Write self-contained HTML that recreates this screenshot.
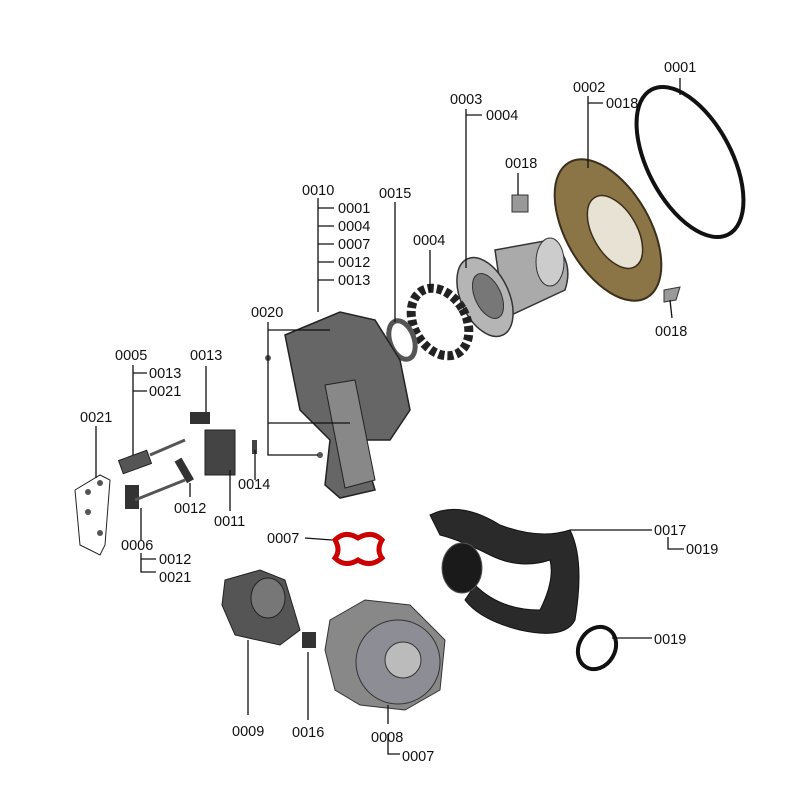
<!DOCTYPE html>
<html><head><meta charset="utf-8"><style>
html,body{margin:0;padding:0;background:#fff}
svg{display:block}
text{font-family:"Liberation Sans",Arial,sans-serif;font-size:14.5px;fill:#111}
.l{stroke:#111;stroke-width:1.3;fill:none}
</style></head><body>
<svg width="800" height="800" viewBox="0 0 800 800" xmlns="http://www.w3.org/2000/svg">
<!-- parts -->
<!-- 0001 ring -->
<ellipse cx="690" cy="162" rx="42" ry="82" transform="rotate(-28 690 162)" fill="none" stroke="#111" stroke-width="4"/>
<!-- brown disc -->
<ellipse cx="608" cy="230" rx="42" ry="78" transform="rotate(-30 608 230)" fill="#8b7445" stroke="#3a2f1a" stroke-width="2"/>
<ellipse cx="615" cy="232" rx="22" ry="40" transform="rotate(-30 615 232)" fill="#e8e2d4" stroke="#3a2f1a" stroke-width="1.5"/>
<!-- tube -->
<path d="M495 250 L550 240 Q575 260 565 290 L505 318 Z" fill="#aaa" stroke="#333" stroke-width="1.5"/>
<ellipse cx="550" cy="262" rx="14" ry="24" fill="#ccc" stroke="#333"/>
<ellipse cx="485" cy="297" rx="24" ry="42" transform="rotate(-25 485 297)" fill="#b5b5b5" stroke="#333" stroke-width="1.5"/>
<ellipse cx="488" cy="296" rx="13" ry="24" transform="rotate(-25 488 296)" fill="#777" stroke="#333"/>
<!-- 0018 clips -->
<path d="M512 195 L528 195 L528 212 L512 212 Z" fill="#999" stroke="#333"/>
<path d="M664 290 L680 287 L676 300 L664 302 Z" fill="#999" stroke="#333"/>
<!-- gasket 0004 -->
<ellipse cx="440" cy="322" rx="26" ry="36" transform="rotate(-30 440 322)" fill="none" stroke="#222" stroke-width="9" stroke-dasharray="6 3"/>
<!-- 0015 -->
<ellipse cx="402" cy="340" rx="12" ry="20" transform="rotate(-20 402 340)" fill="none" stroke="#555" stroke-width="5"/>
<!-- manifold 0010 -->
<path d="M285 335 L340 312 L375 320 L400 360 L410 410 L390 440 L360 440 L375 490 L340 498 L325 485 L330 440 L300 410 Z" fill="#666" stroke="#222" stroke-width="1.5"/>
<path d="M325 385 L355 380 L375 480 L345 488 Z" fill="#888" stroke="#222"/>
<!-- small parts left -->
<rect x="120" y="455" width="30" height="14" fill="#555" stroke="#222" transform="rotate(-20 135 462)"/>
<line x1="150" y1="455" x2="185" y2="440" stroke="#555" stroke-width="3"/>
<rect x="125" y="485" width="14" height="24" fill="#333"/>
<line x1="135" y1="500" x2="185" y2="480" stroke="#555" stroke-width="3"/>
<rect x="190" y="412" width="20" height="12" fill="#333"/>
<rect x="205" y="430" width="30" height="45" fill="#444" stroke="#222"/>
<rect x="180" y="458" width="8" height="25" fill="#333" transform="rotate(-30 184 470)"/>
<rect x="252" y="440" width="5" height="14" fill="#444"/>
<polyline points="75,490 100,475 110,480 105,545 100,555 80,545 75,490" fill="none" stroke="#222" stroke-width="1"/>
<circle cx="88" cy="492" r="3" fill="#555"/><circle cx="100" cy="483" r="3" fill="#555"/><circle cx="88" cy="512" r="3" fill="#555"/><circle cx="100" cy="533" r="3" fill="#555"/>
<circle cx="268" cy="358" r="3" fill="#555"/><circle cx="320" cy="455" r="3" fill="#555"/>
<!-- red ring 0007 -->
<path d="M335 540 Q345 530 358 538 Q372 530 382 540 Q376 550 382 558 Q370 568 358 560 Q345 568 335 558 Q341 550 335 540 Z" fill="none" stroke="#c00" stroke-width="5"/>
<!-- 0017 hose -->
<path d="M430 515 Q460 500 500 525 Q540 540 570 530 Q585 560 575 620 Q565 640 520 630 Q480 620 465 600 L475 585 Q500 610 540 610 Q555 580 550 560 Q520 570 490 555 Q460 540 440 535 Z" fill="#2a2a2a" stroke="#111"/>
<ellipse cx="462" cy="568" rx="20" ry="25" fill="#1a1a1a" stroke="#555"/>
<!-- 0019 ring -->
<ellipse cx="597" cy="648" rx="18" ry="22" transform="rotate(30 597 648)" fill="none" stroke="#111" stroke-width="4"/>
<!-- 0009 valve -->
<path d="M225 580 L260 570 L285 580 L300 630 L280 645 L235 635 L222 605 Z" fill="#555" stroke="#222"/>
<ellipse cx="268" cy="598" rx="17" ry="20" fill="#777" stroke="#222"/>
<rect x="302" y="632" width="14" height="16" fill="#333"/>
<!-- 0008 fan -->
<path d="M330 620 L365 600 L410 605 L445 640 L440 690 L405 710 L360 705 L335 690 L325 650 Z" fill="#888" stroke="#333"/>
<circle cx="398" cy="662" r="42" fill="#8d8d95" stroke="#333"/>
<circle cx="403" cy="660" r="18" fill="#bbb" stroke="#333"/>
<!-- leader lines -->
<g class="l">
<path d="M680 78 L680 95"/>
<path d="M588 96 L588 168 M588 103 L603 103"/>
<path d="M466 109 L466 268 M466 115 L482 115"/>
<path d="M518 173 L518 195"/>
<path d="M672 318 L670 300"/>
<path d="M395 202 L395 322"/>
<path d="M430 250 L430 292"/>
<path d="M318 198 L318 312 M318 208 L334 208 M318 226 L334 226 M318 244 L334 244 M318 262 L334 262 M318 280 L334 280"/>
<path d="M268 322 L268 455 L318 455 M268 330 L330 330 M268 423 L350 423"/>
<path d="M133 365 L133 455 M133 373 L147 373 M133 391 L147 391"/>
<path d="M206 366 L206 412"/>
<path d="M96 426 L96 478"/>
<path d="M255 480 L255 450"/>
<path d="M190 497 L190 483"/>
<path d="M230 511 L230 470"/>
<path d="M141 540 L141 508 M141 553 L141 572 L156 572 M141 559 L156 559"/>
<path d="M305 538 L332 540"/>
<path d="M570 530 L652 530 M668 537 L668 549 L684 549"/>
<path d="M612 638 L652 638"/>
<path d="M248 715 L248 640"/>
<path d="M308 720 L308 652"/>
<path d="M388 724 L388 705 M388 734 L388 754 L400 754"/>
</g>
<!-- labels -->
<text x="664" y="72">0001</text>
<text x="573" y="92">0002</text>
<text x="606" y="108">0018</text>
<text x="450" y="104">0003</text>
<text x="486" y="120">0004</text>
<text x="505" y="168">0018</text>
<text x="655" y="336">0018</text>
<text x="379" y="198">0015</text>
<text x="413" y="245">0004</text>
<text x="302" y="195">0010</text>
<text x="338" y="213">0001</text>
<text x="338" y="231">0004</text>
<text x="338" y="249">0007</text>
<text x="338" y="267">0012</text>
<text x="338" y="285">0013</text>
<text x="251" y="317">0020</text>
<text x="115" y="360">0005</text>
<text x="149" y="378">0013</text>
<text x="149" y="396">0021</text>
<text x="190" y="360">0013</text>
<text x="80" y="422">0021</text>
<text x="238" y="489">0014</text>
<text x="174" y="513">0012</text>
<text x="214" y="526">0011</text>
<text x="121" y="550">0006</text>
<text x="159" y="564">0012</text>
<text x="159" y="582">0021</text>
<text x="267" y="543">0007</text>
<text x="654" y="535">0017</text>
<text x="686" y="554">0019</text>
<text x="654" y="644">0019</text>
<text x="232" y="736">0009</text>
<text x="292" y="737">0016</text>
<text x="371" y="742">0008</text>
<text x="402" y="761">0007</text>
</svg>
</body></html>
